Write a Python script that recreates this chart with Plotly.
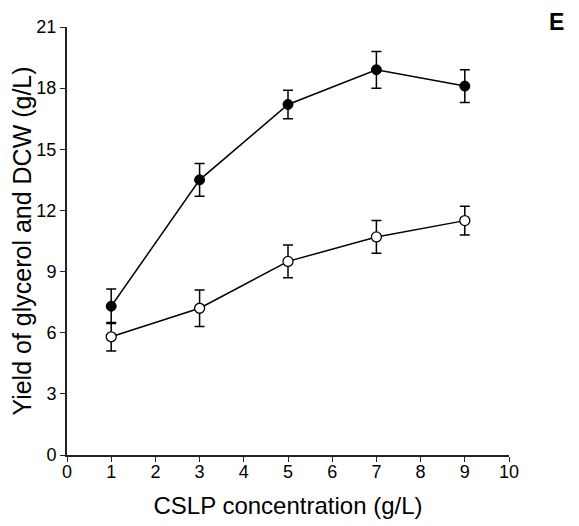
import plotly.graph_objects as go

x_vals = [1, 3, 5, 7, 9]
dcw_vals = [7.3, 13.5, 17.2, 18.9, 18.1]
dcw_err = [0.85, 0.8, 0.7, 0.9, 0.8]
gly_vals = [5.8, 7.2, 9.5, 10.7, 11.5]
gly_err = [0.7, 0.9, 0.8, 0.8, 0.7]
x_ticks = list(range(0, 11))
y_ticks = [0, 3, 6, 9, 12, 15, 18, 21]

FONT = "Liberation Sans, Arial"

fig = go.Figure()
fig.add_trace(go.Scatter(
    x=x_vals, y=dcw_vals, mode="lines+markers",
    line=dict(color="black", width=1.5),
    marker=dict(symbol="circle", size=10, color="black", line=dict(color="black", width=1)),
    error_y=dict(type="data", array=dcw_err, color="black", thickness=1.5, width=5),
    showlegend=False,
))
fig.add_trace(go.Scatter(
    x=x_vals, y=gly_vals, mode="lines+markers",
    line=dict(color="black", width=1.5),
    marker=dict(symbol="circle", size=10, color="white", line=dict(color="black", width=1.3)),
    error_y=dict(type="data", array=gly_err, color="black", thickness=1.5, width=5),
    showlegend=False,
))

axis_common = dict(
    showgrid=False, zeroline=False, showline=True, linecolor="#222", linewidth=2,
    ticks="outside", ticklen=5, tickwidth=1.2, tickcolor="#222", automargin=False,
    tickfont=dict(family=FONT, size=18, color="black"),
)
fig.update_xaxes(range=[0, 10], tickvals=x_ticks, ticklabelstandoff=-6,
                 title=dict(text="CSLP concentration (g/L)", font=dict(family=FONT, size=24, color="black"), standoff=17),
                 **axis_common)
fig.update_yaxes(range=[0, 21], tickvals=y_ticks,
                 title=dict(text="Yield of glycerol and DCW (g/L)", font=dict(family=FONT, size=25, color="black"), standoff=6),
                 **axis_common)

fig.add_annotation(text="<b>E</b>", xref="paper", yref="paper", x=1.108, y=1.012,
                   xanchor="center", yanchor="middle",
                   showarrow=False, font=dict(family=FONT, size=23, color="black"))

fig.update_layout(
    width=571, height=518,
    margin=dict(l=59, r=70, t=19, b=71),
    plot_bgcolor="white", paper_bgcolor="white",
)
fig.write_html("out.html")
